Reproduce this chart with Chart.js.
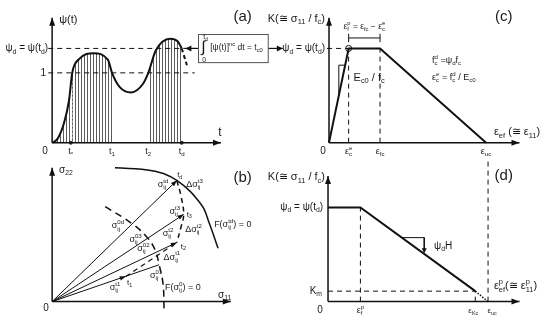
<!DOCTYPE html>
<html><head><meta charset="utf-8">
<script src="https://cdn.jsdelivr.net/npm/chart.js@4/dist/chart.umd.min.js"></script>
<style>html,body{margin:0;padding:0;background:#fff;}canvas{display:block;}</style>
</head><body>
<canvas id="c" width="550" height="326"></canvas>
<script>
// ---------- (a) load history psi(t) ----------
const tCurve   = [0, 0.4, 0.9, 1.3, 1.55, 2.1, 3.2, 4.3, 4.62, 5.2, 6.1, 7.0, 7.42, 8.0, 9.1, 9.7, 10];
const psiCurve = [0, 0.05, 0.27, 0.6, 1.0, 1.2, 1.28, 1.19, 1.0, 0.8, 0.72, 0.84, 1.0, 1.32, 1.49, 1.45, 1.35];
const tTail = [10, 10.4];
const psiTail = [1.35, 1.11];
const tTicks = [1.44, 4.62, 7.42, 10];
const tTickLabels = ['t_{*}', 't_{1}', 't_{2}', 't_{d}'];
const psiD = 1.35;
const hatchRanges = [[0, 4.62], [7.42, 10]];
// ---------- (c) K vs eps_ef ----------
const epsC = [0, 1, 2.6, 8];
const kC   = [0, 1.35, 1.35, 0];
const epsCTicks = [1, 2.6, 8];
const epsCLabels = ['ε^{e}_{c}', 'ε_{fc}', 'ε_{uc}'];
// ---------- (d) K vs eps_ef^p ----------
const epsD = [0, 1.65, 7.5];
const kD   = [1.35, 1.35, 0.15];
const epsDTail = [7.5, 8.15];
const kDTail   = [0.15, 0];
const kM = 0.15;
const epsDTicks = [1.65, 7.5, 8.15];
const epsDLabels = ['ε^{p}_{f}', 'ε_{Kc}', 'ε_{uc}'];
// ---------- (b) stress space ----------
const arcS11 = [6.4, 10.2, 12.7, 15.2, 16.0, 16.9];
const arcS22 = [13.8, 13.5, 12.5, 10.0, 8.1, 5.5];
const f0S11 = [5.4, 8.2, 9.7, 10.5, 10.9, 11.3, 11.4];
const f0S22 = [9.8, 8.0, 6.6, 5.3, 3.8, 1.8, -0.7];
const fiS11 = [12.7, 13.1, 13.4, 13.1, 12.7];
const fiS22 = [12.5, 11.0, 9.0, 7.6, 6.1];
const vecS11 = [12.7, 13.4, 12.7, 10.9];
const vecS22 = [12.5, 9.0, 6.1, 3.8];
const t1Pt = [7.5, 2.6];

const W = 550, H = 326;
const FAM = '"Liberation Sans", Arial, sans-serif';
const INK = '#111';
function xsc(o, ppu){ return {type:'linear', axis:'x', display:false, bounds:'data', min:-o/ppu, max:(W-o)/ppu}; }
function ysc(o, ppu){ return {type:'linear', axis:'y', display:false, bounds:'data', min:-(H-o)/ppu, max:o/ppu}; }
function ds(xs, ys, p, o){
  return Object.assign({
    data: xs.map((x,i)=>({x, y:ys[i]})), xAxisID:'x'+p, yAxisID:'y'+p,
    showLine:true, borderColor:INK, borderWidth:1, pointRadius:0, fill:false, clip:false, tension:0
  }, o||{});
}
const dash = {borderDash:[5,4], borderWidth:1};
const datasets = [
  // (a)
  ds(tCurve, psiCurve, 'a', {borderWidth:2, cubicInterpolationMode:'monotone'}),
  ds(tTail, psiTail, 'a', {borderWidth:2, borderDash:[4,3]}),
  ds([0,13.03],[0,0],'a',{borderWidth:1.5}),
  ds([0,0],[0,1.79],'a',{borderWidth:1.5}),
  ds([-0.3,11.0],[psiD,psiD],'a',dash),
  ds([-0.3,11.0],[1,1],'a',dash),
  ds([tTicks[0],tTicks[3]],[0,0],'a',{showLine:false,pointRadius:2,pointBackgroundColor:'#333',pointBorderWidth:0}),
  // (c)
  ds(epsC, kC, 'c', {borderWidth:2}),
  ds([0,9.7],[0,0],'c',{borderWidth:1.5}),
  ds([0,0],[0,1.79],'c',{borderWidth:1.5}),
  ds([-0.1,epsC[1]],[psiD,psiD],'c',dash),
  ds([epsC[1],epsC[1]],[0,psiD],'c',dash),
  ds([epsC[2],epsC[2]],[0,psiD],'c',dash),
  ds([epsC[1],epsC[2]],[1.5,1.5],'c',{}),
  ds([epsC[1],epsC[1]],[1.44,1.56],'c',{}),
  ds([epsC[2],epsC[2]],[1.44,1.56],'c',{}),
  ds([0.5,0.5,0.82],[0.675,1.11,1.11],'c',{}),
  ds([epsC[1]],[psiD],'c',{showLine:false,pointRadius:3,pointBackgroundColor:'#fff',pointBorderColor:INK,pointBorderWidth:1}),
  // (d)
  ds(epsD, kD, 'd', {borderWidth:2}),
  ds(epsDTail, kDTail, 'd', {borderWidth:1.5, borderDash:[1.5,1.5]}),
  ds([0,9.75],[0,0],'d',{borderWidth:1.5}),
  ds([0,0],[0,1.8],'d',{borderWidth:1.5}),
  ds([epsD[1],epsD[1]],[0,psiD],'d',dash),
  ds([0,epsD[2]],[kM,kM],'d',dash),
  ds([epsD[2],epsD[2]],[0,kM],'d',dash),
  ds([8.15,8.15],[0,2.06],'d',dash),
  ds([3.7,4.9,4.9],[0.917,0.917,0.72],'d',{}),
  // (b)
  ds([0,18.2],[0,0],'b',{borderWidth:1.5}),
  ds([0,0],[0,13.8],'b',{borderWidth:1.5}),
  ds(arcS11, arcS22, 'b', {borderWidth:1.5, tension:0.4}),
  ds(f0S11, f0S22, 'b', {borderWidth:1.5, tension:0.4, borderDash:[7,5]}),
  ds(fiS11, fiS22, 'b', {borderWidth:1.5, tension:0.4, borderDash:[5,4]}),
  ds([0,vecS11[0]],[0,vecS22[0]],'b',{}),
  ds([0,vecS11[1]],[0,vecS22[1]],'b',{}),
  ds([0,vecS11[2]],[0,vecS22[2]],'b',{}),
  ds([0,vecS11[3]],[0,vecS22[3]],'b',{}),
  ds([t1Pt[0],vecS11[2]],[t1Pt[1],vecS22[2]],'b',{borderDash:[5,4],borderWidth:1.2})
];

// ---------- rich text ----------
function parseRich(str){
  const toks=[]; let i=0, buf='';
  while(i<str.length){
    const c=str[i];
    if((c==='_'||c==='^') && str[i+1]==='{'){
      if(buf){toks.push({t:'n',s:buf});buf='';}
      const j=str.indexOf('}',i+2);
      toks.push({t:c==='_'?'sub':'sup',s:str.slice(i+2,j)});
      i=j+1;
    } else {buf+=c;i++;}
  }
  if(buf) toks.push({t:'n',s:buf});
  return toks;
}
function drawRich(ctx, str, x, y, align, size){
  const toks=parseRich(str); const items=[]; let cx=0;
  const big=size+'px '+FAM, small=(size*0.68).toFixed(2)+'px '+FAM;
  const off=t=> t==='sub'? size*0.32 : -size*0.36;
  for(let k=0;k<toks.length;k++){
    const tk=toks[k];
    if(tk.t==='n'){ ctx.font=big; items.push({s:tk.s,x:cx,dy:0,f:big}); cx+=ctx.measureText(tk.s).width; }
    else {
      ctx.font=small; let adv=ctx.measureText(tk.s).width;
      items.push({s:tk.s,x:cx,dy:off(tk.t),f:small});
      const nx=toks[k+1];
      if(nx && nx.t!=='n' && nx.t!==tk.t){ items.push({s:nx.s,x:cx,dy:off(nx.t),f:small}); adv=Math.max(adv,ctx.measureText(nx.s).width); k++; }
      cx+=adv;
    }
  }
  const x0 = align==='center'? x-cx/2 : align==='right'? x-cx : x;
  ctx.textBaseline='middle'; ctx.textAlign='left'; ctx.fillStyle='#1a1a1a';
  items.forEach(it=>{ctx.font=it.f; ctx.fillText(it.s, x0+it.x, y+it.dy);});
}
function head(ctx,x1,y1,x2,y2,L,Wd){
  const a=Math.atan2(y2-y1,x2-x1), c=Math.cos(a), s=Math.sin(a);
  ctx.beginPath(); ctx.moveTo(x2,y2);
  ctx.lineTo(x2-L*c+Wd*s, y2-L*s-Wd*c);
  ctx.lineTo(x2-L*c-Wd*s, y2-L*s+Wd*c);
  ctx.closePath(); ctx.fill();
}

const texts = [
  ['a',0,1.79,'ψ(t)','left',7,2,11],
  ['a',13.03,0,'t','center',-1,-10,12],
  ['a',0,0,'0','center',-7,9,10],
  ['a',0,psiD,'ψ_{d} = ψ(t_{d})','right',-4,0,10],
  ['a',0,1,'1','right',-6,0,10],
  ['a',14.7,1.806,'(a)','center',0,0,15],
  ['a',11.67,1.36,'∫','center',0,0,16],
  ['a',11.84,1.51,'t_{d}','center',0,0,7],
  ['a',11.74,1.19,'0','center',0,0,7],
  ['a',12.2,1.36,'[ψ(t)]^{nc} dt = t_{c0}','left',0,0,8.5],
  ['c',0,1.79,'K(≅ σ_{11} / f_{c})','right',-4,1,11],
  ['c',0,psiD,'ψ_{d} = ψ(t_{d})','right',-4,0,10],
  ['c',1.8,1.667,'ε^{p}_{f} = ε_{fc} − ε^{e}_{c}','center',0,0,8.5],
  ['c',1.25,0.93,'E_{c0} / f_{c}','left',0,0,11],
  ['c',5.25,1.18,'f^{d}_{c} =ψ_{d}f_{c}','left',0,0,9],
  ['c',5.25,0.93,'ε^{e}_{c} = f^{d}_{c} / E_{c0}','left',0,0,9],
  ['c',8.9,1.806,'(c)','center',0,0,15],
  ['c',8.4,0.153,'ε_{ef} (≅ ε_{11})','left',0,0,11],
  ['c',0,0,'0','center',-6,9,10],
  ['d',0,1.8,'K(≅ σ_{11} / f_{c})','right',-3,1,11],
  ['d',8.95,1.806,'(d)','center',0,0,15],
  ['d',0,psiD,'ψ_{d} = ψ(t_{d})','right',-5,0,10],
  ['d',0,kM,'K_{m}','right',-6,0,10],
  ['d',5.4,0.8,'ψ_{d}H','left',0,0,10],
  ['d',8.45,0.22,'ε^{p}_{ef}(≅ ε^{p}_{11})','left',0,0,11],
  ['d',0,0,'0','center',-8,9,10],
  ['b',0.7,13.6,'σ_{22}','left',0,0,10],
  ['b',16.9,0.7,'σ_{11}','left',0,0,10],
  ['b',0,0,'0','center',-6,7,10],
  ['b',19.4,12.8,'(b)','center',0,0,15],
  ['b',13.0,13.1,'t_{d}','center',0,0,8],
  ['b',11.3,12.1,'σ^{td}_{ij}','center',0,0,9],
  ['b',14.5,12.1,'Δσ^{t3}_{ij}','center',0,0,9],
  ['b',12.5,9.3,'σ^{t3}_{ij}','center',0,0,9],
  ['b',13.7,9.0,'t_{3}','left',0,0,8],
  ['b',14.4,7.4,'Δσ^{t2}_{ij}','center',0,0,9],
  ['b',11.8,7.0,'σ^{t2}_{ij}','center',0,0,9],
  ['b',13.1,5.7,'t_{2}','left',0,0,8],
  ['b',12.2,4.6,'Δσ^{t1}_{ij}','center',0,0,9],
  ['b',6.7,7.8,'σ^{0d}_{ij}','center',0,0,9],
  ['b',8.5,6.4,'σ^{03}_{ij}','center',0,0,9],
  ['b',9.3,5.5,'σ^{02}_{ij}','center',0,0,9],
  ['b',10.6,2.7,'σ^{01}_{ij}','center',0,0,9],
  ['b',7.9,1.9,'t_{1}','center',0,0,8],
  ['b',6.4,1.5,'σ^{t1}_{ij}','center',0,0,9],
  ['b',11.5,1.5,'F(σ^{0}_{ij}) = 0','left',0,0,9],
  ['b',16.5,8.0,'F(σ^{td}_{ij}) = 0','left',0,0,9]
];
tTicks.forEach((t,i)=>texts.push(['a',t,0,tTickLabels[i],'center',0,9,9]));
epsCTicks.forEach((e,i)=>texts.push(['c',e,0,epsCLabels[i],'center',0,9,9]));
epsDTicks.forEach((e,i)=>texts.push(['d',e,0,epsDLabels[i],'center',[0,-2,4][i],9,[9,8,8][i]]));

// arrows: [panel, fromX, fromY, toX, toY, len, halfWidth, drawShaft]
const arrows = [
  ['a',0,1.6,0,1.79,8,3,false], ['a',12.5,0,13.03,0,8,3,false],
  ['a',11.29,psiD,10.28,psiD,6,3,true], ['a',16.67,psiD,17.8,psiD,6,3,true],
  ['c',0,1.6,0,1.79,8,3,false], ['c',9.3,0,9.7,0,8,3,false],
  ['d',0,1.6,0,1.8,8,3,false], ['d',9.3,0,9.75,0,8,3,false],
  ['d',4.9,0.917,4.9,0.694,5,2.5,false],
  ['b',0,13,0,13.8,8,3,false], ['b',17.5,0,18.2,0,8,3,false],
  ['b',0,0,vecS11[0],vecS22[0],6,2.3,false],
  ['b',0,0,vecS11[1],vecS22[1],6,2.3,false],
  ['b',0,0,vecS11[2],vecS22[2],6,2.3,false],
  ['b',0,0,t1Pt[0],t1Pt[1],6,2.3,false]
];

const pat = (()=>{const c=document.createElement('canvas');c.width=3;c.height=4;const g=c.getContext('2d');g.fillStyle='rgba(50,50,50,0.8)';g.fillRect(0,0,1,4);return c;})();

const deco = {
  id:'deco',
  beforeDatasetsDraw(chart){
    const ctx=chart.ctx, X=chart.scales.xa, Y=chart.scales.ya;
    const line=chart.getDatasetMeta(0).dataset;
    ctx.save();
    ctx.beginPath();
    hatchRanges.forEach(([a,b])=>{const x0=X.getPixelForValue(a),x1=X.getPixelForValue(b);ctx.rect(x0,0,x1-x0+0.5,H);});
    ctx.clip();
    ctx.beginPath();
    const pts=line.points;
    try{ line.updateControlPoints(chart.chartArea,'x'); line.path(ctx); }
    catch(e){ ctx.moveTo(pts[0].x,pts[0].y); pts.forEach(p=>ctx.lineTo(p.x,p.y)); }
    const y0=Y.getPixelForValue(0);
    ctx.lineTo(pts[pts.length-1].x,y0); ctx.lineTo(pts[0].x,y0); ctx.closePath();
    ctx.fillStyle=ctx.createPattern(pat,'repeat'); ctx.fill();
    ctx.restore();
    // white dotted line at t*
    ctx.save(); ctx.strokeStyle='#fff'; ctx.lineWidth=2; ctx.setLineDash([2,2]);
    const xs=Math.round(X.getPixelForValue(tTicks[0]))+0.5;
    ctx.beginPath(); ctx.moveTo(xs,Y.getPixelForValue(0)); ctx.lineTo(xs,Y.getPixelForValue(0.88)); ctx.stroke();
    ctx.restore();
  },
  afterDatasetsDraw(chart){
    const ctx=chart.ctx, S=chart.scales;
    const px=(p,x)=>S['x'+p].getPixelForValue(x), py=(p,y)=>S['y'+p].getPixelForValue(y);
    ctx.save(); ctx.fillStyle=INK; ctx.strokeStyle=INK; ctx.lineWidth=1.2;
    arrows.forEach(([p,x1,y1,x2,y2,L,w,shaft])=>{
      const a=px(p,x1),b=py(p,y1),c=px(p,x2),d=py(p,y2);
      if(shaft){ctx.beginPath();ctx.moveTo(a,b);ctx.lineTo(c,d);ctx.stroke();}
      head(ctx,a,b,c,d,L,w);
    });
    // formula box in (a)
    const bx0=px('a',11.29), bx1=px('a',16.67), by0=py('a',1.556), by1=py('a',1.153);
    ctx.fillStyle='#fff'; ctx.fillRect(bx0,by0,bx1-bx0,by1-by0);
    ctx.strokeStyle='#555'; ctx.lineWidth=1; ctx.strokeRect(Math.round(bx0)+0.5,Math.round(by0)+0.5,bx1-bx0,by1-by0);
    texts.forEach(([p,x,y,s,al,dx,dy,sz])=>drawRich(ctx,s,px(p,x)+dx,py(p,y)+dy,al,sz));
    ctx.restore();
  }
};

new Chart(document.getElementById('c'), {
  type:'scatter',
  data:{datasets},
  options:{
    responsive:false, animation:false, devicePixelRatio:1, events:[],
    layout:{padding:0},
    plugins:{legend:{display:false}, tooltip:{enabled:false}, title:{display:false}},
    scales:{
      x:{display:false}, y:{display:false},
      xa:xsc(48,13.2), ya:ysc(142,72),
      xb:xsc(48,10),  yb:ysc(306,10),
      xc:xsc(330,20), yc:ysc(142,72),
      xd:xsc(329,20), yd:ysc(306,72)
    }
  },
  plugins:[deco]
});
</script>
</body></html>
